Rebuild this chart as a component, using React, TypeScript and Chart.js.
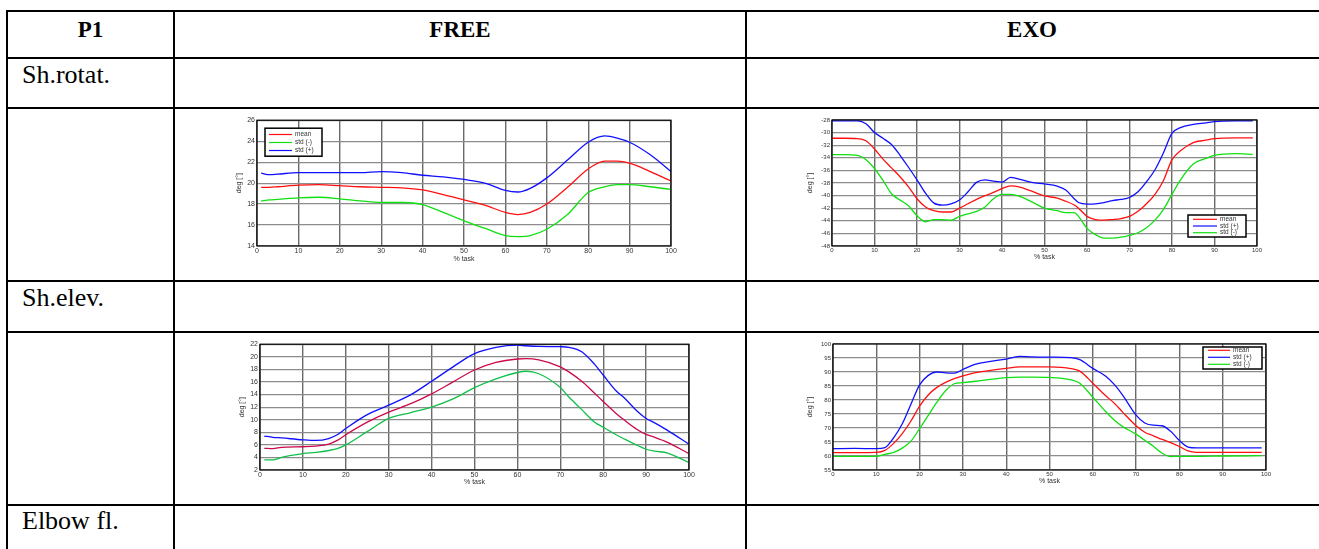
import React, { useEffect, useRef } from 'react';
import { Chart, registerables } from 'chart.js';

Chart.register(...registerables);

// ---- Shoulder rotation, FREE ----
const rotFreePct = [1, 3, 5, 10, 15, 20, 25, 30, 35, 40, 45, 50, 55, 60, 63, 66, 70, 75, 80, 84, 87, 90, 95, 100];
const rotFreeMean = [19.6, 19.6, 19.65, 19.8, 19.85, 19.75, 19.65, 19.6, 19.55, 19.35, 18.9, 18.4, 17.9, 17.2, 17.0, 17.2, 18.0, 19.6, 21.35, 22.1, 22.1, 21.9, 21.1, 20.2];
const rotFreePlus = [20.95, 20.8, 20.85, 21.0, 21.0, 21.0, 21.0, 21.1, 21.0, 20.75, 20.6, 20.35, 20.0, 19.3, 19.15, 19.5, 20.5, 22.2, 23.9, 24.5, 24.3, 23.9, 22.7, 21.1];
const rotFreeMinus = [18.3, 18.4, 18.45, 18.6, 18.65, 18.5, 18.3, 18.15, 18.15, 17.95, 17.2, 16.4, 15.7, 15.0, 14.9, 15.0, 15.6, 17.0, 19.1, 19.65, 19.85, 19.85, 19.65, 19.4];

// ---- Shoulder rotation, EXO ----
const rotExoPct = [0, 3, 6, 8, 10, 12, 14, 16, 18, 20, 22, 24, 26, 28, 30, 32, 34, 36, 38, 40, 42, 44, 47, 50, 53, 55, 57, 58, 60, 62, 64, 66, 68, 70, 72, 74, 76, 78, 80, 82, 85, 88, 90, 95, 99];
const rotExoMean = [-30.9, -30.9, -30.95, -31.3, -32.6, -34.2, -35.6, -37.0, -38.6, -40.5, -41.8, -42.4, -42.6, -42.6, -42.0, -41.3, -40.6, -40.0, -39.5, -38.9, -38.45, -38.6, -39.3, -40.05, -40.4, -40.9, -41.5, -42.0, -43.3, -43.8, -43.9, -43.8, -43.65, -43.3, -42.5, -41.3, -39.8, -37.6, -34.3, -32.9, -31.6, -31.2, -30.95, -30.85, -30.85];
const rotExoPlus = [-28.15, -28.15, -28.15, -28.6, -30.0, -30.9, -31.9, -33.6, -35.5, -37.5, -39.6, -41.2, -41.5, -41.3, -40.7, -39.4, -37.9, -37.5, -37.7, -37.85, -37.1, -37.4, -37.9, -38.15, -38.5, -39.1, -40.5, -41.1, -41.35, -41.3, -41.1, -40.8, -40.6, -40.3, -39.4, -37.8, -35.9, -33.2, -30.1, -29.2, -28.7, -28.45, -28.25, -28.15, -28.15];
const rotExoMinus = [-33.5, -33.5, -33.6, -34.3, -35.7, -37.6, -39.7, -40.7, -41.6, -43.2, -44.15, -43.8, -43.8, -43.9, -43.3, -42.9, -42.5, -41.8, -40.5, -39.8, -39.8, -40.1, -41.0, -42.0, -42.4, -42.7, -42.7, -43.3, -45.2, -46.2, -46.75, -46.75, -46.6, -46.3, -45.9, -45.1, -43.9, -42.2, -39.8, -37.5, -35.0, -34.1, -33.6, -33.35, -33.45];

// ---- Shoulder elevation, FREE ----
const elevFreePct = [1, 3, 5, 10, 13, 16, 18, 20, 25, 30, 35, 40, 45, 50, 55, 60, 62, 65, 70, 72, 75, 78, 80, 83, 85, 88, 90, 92, 95, 100];
const elevFreeMean = [5.45, 5.4, 5.6, 5.7, 5.8, 6.1, 6.7, 7.6, 9.6, 11.2, 12.5, 14.1, 16.0, 17.9, 19.1, 19.65, 19.7, 19.5, 18.4, 17.6, 16.1, 14.2, 12.9, 11.0, 9.9, 8.4, 7.65, 7.2, 6.4, 4.6];
const elevFreePlus = [7.4, 7.2, 7.1, 6.8, 6.7, 7.0, 7.6, 8.6, 10.8, 12.3, 13.9, 16.1, 18.4, 20.5, 21.5, 21.85, 21.75, 21.65, 21.6, 21.5, 20.8, 18.8, 17.1, 14.6, 13.4, 11.3, 10.2, 9.5, 8.3, 6.1];
const elevFreeMinus = [3.6, 3.6, 4.0, 4.6, 4.8, 5.1, 5.4, 6.0, 8.1, 10.2, 11.1, 12.0, 13.3, 15.1, 16.5, 17.5, 17.7, 17.3, 15.1, 13.6, 11.6, 9.6, 8.8, 7.6, 6.9, 5.9, 5.3, 5.0, 4.7, 3.2];

// ---- Shoulder elevation, EXO ----
const elevExoPct = [0, 5, 10, 12, 14, 16, 18, 20, 22, 24, 26, 28, 30, 33, 36, 40, 43, 46, 50, 55, 57, 60, 63, 65, 67, 70, 72, 74, 76, 78, 80, 82, 84, 90, 99];
const elevExoMean = [61.2, 61.2, 61.3, 62.0, 64.5, 68.0, 72.5, 77.8, 81.8, 84.5, 86.3, 87.6, 88.6, 89.8, 90.5, 91.3, 91.8, 91.8, 91.8, 91.2, 90.3, 86.0, 81.5, 78.8, 75.5, 70.8, 68.5, 67.2, 65.9, 64.8, 63.4, 61.8, 61.3, 61.3, 61.3];
const elevExoPlus = [62.6, 62.7, 62.6, 63.0, 66.5, 71.5, 78.5, 85.4, 88.8, 90.0, 89.7, 89.6, 90.9, 92.8, 93.7, 94.6, 95.6, 95.4, 95.3, 95.1, 94.4, 91.3, 88.5, 85.5, 81.5, 74.6, 71.8, 71.0, 70.8, 68.8, 65.5, 63.2, 62.9, 62.9, 62.9];
const elevExoMinus = [59.9, 59.9, 59.9, 60.6, 61.3, 62.8, 65.3, 69.8, 74.5, 79.2, 83.3, 85.8, 86.2, 86.7, 87.3, 88.0, 88.2, 88.2, 88.1, 87.2, 86.0, 81.0, 75.8, 72.8, 70.4, 67.8, 65.6, 63.5, 61.0, 59.8, 59.9, 59.9, 59.9, 60.0, 60.1];

const headerLabels = ['P1', 'FREE', 'EXO'];
const rowLabels = ['Sh.rotat.', 'Sh.elev.', 'Elbow fl.'];
const xAxisTitle = '% task';
const yAxisTitle = 'deg [°]';

const RED = '#ff1010';
const BLUE = '#1010ff';
const GREEN = '#10e010';
const CRIMSON = '#cc0a4a';
const TEAL_GREEN = '#10c04a';

const SANS = '"Liberation Sans", Arial, sans-serif';
const SERIF = '"Liberation Serif", "Times New Roman", serif';

type Geo = { l: number; t: number; r: number; b: number; axisW: number; axisH: number; tickSize: number };
type LegendBox = { x: number; y: number; w: number; h: number; first: number; row: number; lineStart: number; line: number; text: number };
type Series = { label: string; values: number[]; color: string };

// Draws the closed axes box and an in-plot legend box.
const frameBox = {
  id: 'frameBox',
  afterDatasetsDraw(chart: any, _args: any, opts: any) {
    const { ctx, chartArea } = chart;
    const { left, top, right, bottom } = chartArea;
    ctx.save();
    ctx.strokeStyle = '#000';
    ctx.lineWidth = 1.2;
    ctx.strokeRect(left, top, right - left, bottom - top);
    const lg = opts && opts.box;
    if (lg) {
      const x0 = left + lg.x;
      const y0 = top + lg.y;
      ctx.fillStyle = '#fff';
      ctx.fillRect(x0, y0, lg.w, lg.h);
      ctx.lineWidth = 1.5;
      ctx.strokeStyle = '#000';
      ctx.strokeRect(x0, y0, lg.w, lg.h);
      ctx.font = `6.5px ${SANS}`;
      ctx.textBaseline = 'middle';
      ctx.textAlign = 'left';
      chart.data.datasets.forEach((ds: any, i: number) => {
        const cy = y0 + lg.first + i * lg.row;
        ctx.strokeStyle = ds.borderColor;
        ctx.lineWidth = 1.2;
        ctx.beginPath();
        ctx.moveTo(x0 + lg.lineStart, cy);
        ctx.lineTo(x0 + lg.lineStart + lg.line, cy);
        ctx.stroke();
        ctx.fillStyle = '#333';
        ctx.fillText(ds.label, x0 + lg.text, cy);
      });
    }
    ctx.restore();
  },
};

function Panel(props: { pct: number[]; series: Series[]; yMin: number; yMax: number; yStep: number; geo: Geo; legend?: LegendBox }) {
  const { pct, series, yMin, yMax, yStep, geo, legend } = props;
  const ref = useRef<HTMLCanvasElement>(null);
  const padTop = 6;
  const padRight = 12;
  const cl = Math.round(geo.l - geo.axisW);
  const ct = geo.t - padTop;
  const cw = geo.r + padRight - cl;
  const ch = Math.round(geo.b + geo.axisH - ct);
  const axisW = geo.l - cl;
  const axisH = ct + ch - geo.b;

  useEffect(() => {
    const font = { family: SANS, size: geo.tickSize };
    const titleFont = { family: SANS, size: 7 };
    const chart = new Chart(ref.current as HTMLCanvasElement, {
      type: 'line',
      data: {
        datasets: series.map((s) => ({
          label: s.label,
          data: pct.map((x, i) => ({ x, y: s.values[i] })),
          borderColor: s.color,
          backgroundColor: s.color,
          borderWidth: 1.3,
          pointRadius: 0,
          cubicInterpolationMode: 'monotone' as const,
          fill: false,
        })),
      },
      options: {
        responsive: false,
        animation: false,
        devicePixelRatio: 1,
        layout: { padding: { top: padTop, right: padRight, left: 0, bottom: 0 } },
        plugins: {
          legend: { display: false },
          tooltip: { enabled: false },
          frameBox: { box: legend || null },
        } as any,
        scales: {
          x: {
            type: 'linear',
            min: 0,
            max: 100,
            afterFit: (s: any) => { s.height = axisH; },
            ticks: { stepSize: 10, autoSkip: false, maxRotation: 0, padding: 1, font, color: '#333' },
            grid: { color: '#6a6a6a', lineWidth: 1.4, drawTicks: false },
            border: { display: false },
            title: { display: true, text: xAxisTitle, font: titleFont, color: '#333', padding: 0 },
          },
          y: {
            type: 'linear',
            min: yMin,
            max: yMax,
            afterFit: (s: any) => { s.width = axisW; },
            ticks: { stepSize: yStep, autoSkip: false, padding: 2, font, color: '#333' },
            grid: { color: '#8c8c8c', lineWidth: 1.2, drawTicks: false },
            border: { display: false },
            title: { display: true, text: yAxisTitle, font: titleFont, color: '#333', padding: 0 },
          },
        },
      },
      plugins: [frameBox],
    });
    return () => chart.destroy();
  }, []);

  return (
    <canvas
      ref={ref}
      width={cw}
      height={ch}
      style={{ position: 'absolute', left: cl, top: ct, width: cw, height: ch }}
    />
  );
}

const hLine = (top: number, key: string) => (
  <div key={key} style={{ position: 'absolute', left: 6, top, width: 1313, height: 2, background: '#000' }} />
);
const vLine = (left: number, key: string) => (
  <div key={key} style={{ position: 'absolute', left, top: 10, width: 2, height: 539, background: '#000' }} />
);

export default function App() {
  const headerStyle: React.CSSProperties = {
    position: 'absolute', top: 18, fontFamily: SERIF, fontWeight: 'bold', fontSize: 23, lineHeight: '23px', textAlign: 'center', color: '#000',
  };
  const rowStyle: React.CSSProperties = {
    position: 'absolute', left: 22, fontFamily: SERIF, fontSize: 26, lineHeight: '26px', color: '#000', whiteSpace: 'nowrap',
  };
  return (
    <div style={{ position: 'fixed', left: 0, top: 0, width: 1319, height: 549, overflow: 'hidden', background: '#fff' }}>
      {[10, 57, 107, 280, 331, 504].map((y, i) => hLine(y, 'h' + i))}
      {[6, 173, 745].map((x, i) => vLine(x, 'v' + i))}

      <div style={{ ...headerStyle, left: 8, width: 165 }}>{headerLabels[0]}</div>
      <div style={{ ...headerStyle, left: 175, width: 570 }}>{headerLabels[1]}</div>
      <div style={{ ...headerStyle, left: 747, width: 570 }}>{headerLabels[2]}</div>

      <div style={{ ...rowStyle, top: 62 }}>{rowLabels[0]}</div>
      <div style={{ ...rowStyle, top: 285 }}>{rowLabels[1]}</div>
      <div style={{ ...rowStyle, top: 508 }}>{rowLabels[2]}</div>

      <Panel
        pct={rotFreePct}
        series={[
          { label: 'mean', values: rotFreeMean, color: RED },
          { label: 'std (-)', values: rotFreeMinus, color: GREEN },
          { label: 'std (+)', values: rotFreePlus, color: BLUE },
        ]}
        yMin={14} yMax={26} yStep={2}
        geo={{ l: 257, t: 120, r: 671, b: 246, axisW: 22, axisH: 16.5, tickSize: 7 }}
        legend={{ x: 8, y: 8, w: 57, h: 28, first: 6.3, row: 8, lineStart: 4, line: 23, text: 30 }}
      />
      <Panel
        pct={rotExoPct}
        series={[
          { label: 'mean', values: rotExoMean, color: RED },
          { label: 'std (+)', values: rotExoPlus, color: BLUE },
          { label: 'std (-)', values: rotExoMinus, color: GREEN },
        ]}
        yMin={-48} yMax={-28} yStep={2}
        geo={{ l: 832, t: 120, r: 1257, b: 246, axisW: 26, axisH: 15, tickSize: 6 }}
        legend={{ x: 356, y: 95, w: 58, h: 22, first: 4.3, row: 6.7, lineStart: 5, line: 24, text: 32 }}
      />
      <Panel
        pct={elevFreePct}
        series={[
          { label: 'mean', values: elevFreeMean, color: CRIMSON },
          { label: 'std (-)', values: elevFreeMinus, color: TEAL_GREEN },
          { label: 'std (+)', values: elevFreePlus, color: BLUE },
        ]}
        yMin={2} yMax={22} yStep={2}
        geo={{ l: 260, t: 344, r: 689, b: 470, axisW: 22.5, axisH: 16, tickSize: 7 }}
      />
      <Panel
        pct={elevExoPct}
        series={[
          { label: 'mean', values: elevExoMean, color: RED },
          { label: 'std (+)', values: elevExoPlus, color: BLUE },
          { label: 'std (-)', values: elevExoMinus, color: GREEN },
        ]}
        yMin={55} yMax={100} yStep={5}
        geo={{ l: 833, t: 344, r: 1266, b: 470, axisW: 27, axisH: 15, tickSize: 6 }}
        legend={{ x: 370, y: 3, w: 59, h: 22, first: 3.3, row: 7, lineStart: 5, line: 22, text: 30 }}
      />
    </div>
  );
}
